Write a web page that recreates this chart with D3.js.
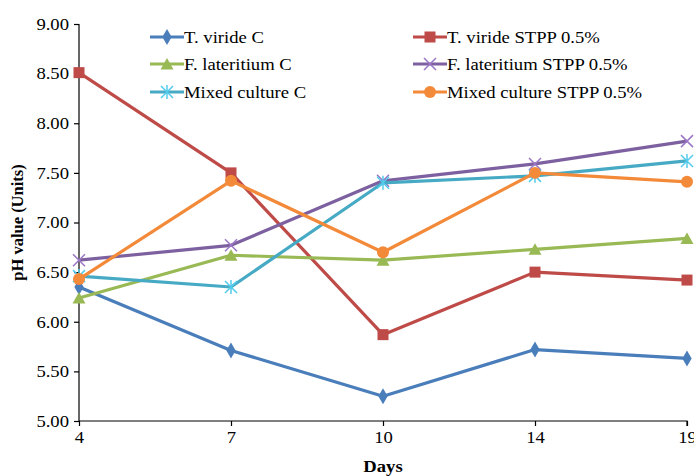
<!DOCTYPE html>
<html>
<head>
<meta charset="utf-8">
<script src="https://cdn.jsdelivr.net/npm/d3@7"></script>
<style>
  html, body { margin: 0; padding: 0; background: #fff; }
  svg { display: block; }
  text { font-family: "Liberation Serif", "Times New Roman", serif; fill: #000; }
</style>
</head>
<body>
<svg id="chart" width="694" height="476"></svg>
<script>
// Sampling days (categorical axis)
const days = ["4", "7", "10", "14", "19"];

// pH readings per treatment
const tViridiC        = [6.35, 5.71, 5.25, 5.72, 5.63];
const tViridiSTPP     = [8.51, 7.50, 5.87, 6.50, 6.42];
const fLateritiumC    = [6.24, 6.67, 6.62, 6.73, 6.84];
const fLateritiumSTPP = [6.62, 6.77, 7.42, 7.59, 7.82];
const mixedC          = [6.46, 6.35, 7.40, 7.47, 7.62];
const mixedSTPP       = [6.43, 7.42, 6.70, 7.50, 7.41];

const seriesNames = [
  "T. viride C", "T. viride STPP 0.5%",
  "F. lateritium C", "F. lateritium STPP 0.5%",
  "Mixed culture C", "Mixed culture STPP 0.5%"
];

const yTicks = [5.0, 5.5, 6.0, 6.5, 7.0, 7.5, 8.0, 8.5, 9.0];

const series = [
  { name: seriesNames[0], values: tViridiC,        color: "#4A7EBB", marker: "diamond" },
  { name: seriesNames[1], values: tViridiSTPP,     color: "#BE4B48", marker: "square" },
  { name: seriesNames[2], values: fLateritiumC,    color: "#98B954", marker: "triangle" },
  { name: seriesNames[3], values: fLateritiumSTPP, color: "#7D60A0", marker: "cross" },
  { name: seriesNames[4], values: mixedC,          color: "#46AAC5", marker: "asterisk" },
  { name: seriesNames[5], values: mixedSTPP,       color: "#F38A3A", marker: "circle" }
];

const FONT = 16.5;     // base text size
const WIDEN = 1.13;    // horizontal widening of the serif lettering

const svg = d3.select("#chart");
const plot = { left: 79, right: 687, top: 24, bottom: 421 };

const x = d3.scalePoint().domain(days).range([plot.left, plot.right]);
const y = d3.scaleLinear().domain([5, 9]).range([plot.bottom, plot.top]);

// Stretch a text element's glyphs horizontally by WIDEN
function widen(sel) {
  sel.each(function () {
    const len = this.getComputedTextLength();
    d3.select(this).attr("textLength", len * WIDEN).attr("lengthAdjust", "spacingAndGlyphs");
  });
}

// Axes
const yAxis = d3.axisLeft(y).tickValues(yTicks).tickFormat(d3.format(".2f")).tickSize(5).tickPadding(5);
const xAxis = d3.axisBottom(x).tickSize(5).tickPadding(5);

const gy = svg.append("g").attr("transform", `translate(${plot.left},0)`).call(yAxis);
const gx = svg.append("g").attr("transform", `translate(0,${plot.bottom})`).call(xAxis);

[gy, gx].forEach(g => {
  g.select(".domain").attr("stroke", "#000").attr("stroke-width", 1.2);
  g.selectAll(".tick line").attr("stroke", "#000").attr("stroke-width", 1.2);
  g.selectAll(".tick text")
    .attr("font-family", "Liberation Serif, Times New Roman, serif")
    .attr("font-size", FONT)
    .attr("fill", "#000")
    .call(widen);
});
gy.select(".domain").attr("d", `M0,${plot.top}V${plot.bottom}`);
gx.select(".domain").attr("d", `M${plot.left},0H${plot.right}V5`);

// Axis titles
svg.append("text")
  .attr("transform", `translate(23,${(plot.top + plot.bottom) / 2}) rotate(-90)`)
  .attr("text-anchor", "middle")
  .attr("font-size", FONT)
  .attr("font-weight", "bold")
  .text("pH value (Units)");

svg.append("text")
  .attr("x", (plot.left + plot.right) / 2)
  .attr("y", 472)
  .attr("text-anchor", "middle")
  .attr("font-size", FONT)
  .attr("font-weight", "bold")
  .text("Days")
  .call(widen);

// Marker drawing
function drawMarker(g, type, color) {
  switch (type) {
    case "diamond":
      g.append("path").attr("d", d3.symbol(d3.symbolDiamond, 75)()).attr("fill", color);
      break;
    case "square":
      g.append("rect").attr("x", -5.5).attr("y", -5.5).attr("width", 11).attr("height", 11).attr("fill", color);
      break;
    case "triangle":
      g.append("path").attr("d", "M0,-6L6.5,5.5H-6.5Z").attr("fill", color);
      break;
    case "circle":
      g.append("circle").attr("r", 6).attr("fill", color);
      break;
    case "cross":
      g.append("path").attr("d", "M-6,-6L6,6M-6,6L6,-6")
        .attr("stroke", d3.color(color).brighter(0.6)).attr("stroke-width", 1.5).attr("fill", "none");
      break;
    case "asterisk":
      g.append("path").attr("d", "M-6,-6L6,6M-6,6L6,-6M0,-7V7")
        .attr("stroke", d3.color(color).brighter(0.5)).attr("stroke-width", 1.5).attr("fill", "none");
      break;
  }
}

const line = d3.line().x((d, i) => x(days[i])).y(d => y(d));

series.forEach(s => {
  const g = svg.append("g");
  g.append("path")
    .attr("d", line(s.values))
    .attr("fill", "none")
    .attr("stroke", s.color)
    .attr("stroke-width", 3.2)
    .attr("stroke-linejoin", "round");
  s.values.forEach((v, i) => {
    const m = g.append("g").attr("transform", `translate(${x(days[i])},${y(v)})`);
    drawMarker(m, s.marker, s.color);
  });
});

// Legend: two columns, three rows
const legendCols = [150, 413];
const legendRows = [37, 64, 92];
series.forEach((s, i) => {
  const lx = legendCols[i % 2];
  const ly = legendRows[Math.floor(i / 2)];
  const g = svg.append("g").attr("transform", `translate(${lx},${ly})`);
  g.append("line").attr("x1", 0).attr("x2", 34).attr("y1", 0).attr("y2", 0)
    .attr("stroke", s.color).attr("stroke-width", 3.2);
  const m = g.append("g").attr("transform", "translate(17,0)");
  drawMarker(m, s.marker, s.color);
  g.append("text").attr("x", 34).attr("y", 5.5)
    .attr("font-size", FONT)
    .text(s.name)
    .call(widen);
});
</script>
</body>
</html>
